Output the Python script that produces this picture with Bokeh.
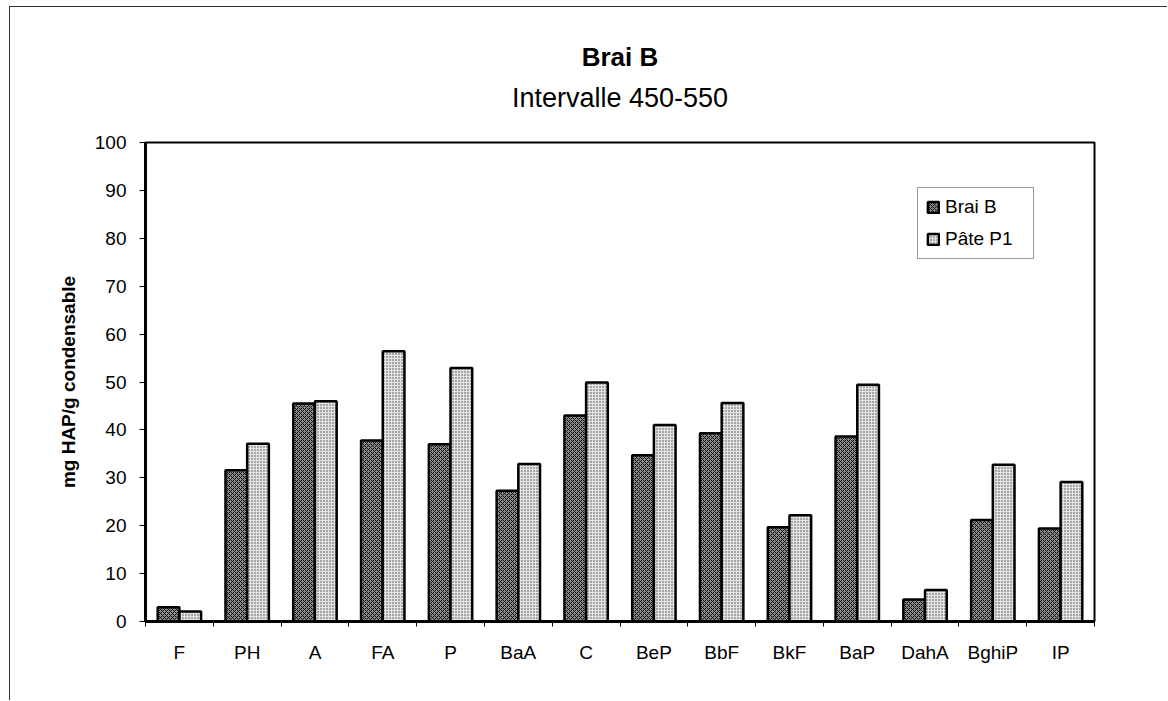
from bokeh.plotting import figure
from bokeh.models import ColumnDataSource, FixedTicker, Title, Legend, LegendItem
from bokeh.transform import dodge
from bokeh.embed import file_html
from bokeh.resources import INLINE

categories = ["F", "PH", "A", "FA", "P", "BaA", "C", "BeP", "BbF", "BkF", "BaP", "DahA", "BghiP", "IP"]
brai_b = [3.0, 31.6, 45.5, 37.8, 37.0, 27.3, 43.0, 34.7, 39.3, 19.7, 38.6, 4.6, 21.2, 19.4]
pate_p1 = [2.1, 37.1, 46.0, 56.4, 52.9, 32.9, 49.9, 41.0, 45.6, 22.2, 49.4, 6.6, 32.7, 29.1]
y_ticks = [0, 10, 20, 30, 40, 50, 60, 70, 80, 90, 100]

xpos = [i + 0.5 for i in range(len(categories))]
src = ColumnDataSource(dict(x=xpos, brai=brai_b, pate=pate_p1))

FONT = "Liberation Sans"

p = figure(width=1158, height=694, x_range=(0, 14), y_range=(0, 100),
           output_backend="svg", toolbar_location=None, tools="",
           min_border_left=135, min_border_right=74, min_border_top=135, min_border_bottom=80)
p.styles = {"margin-left": "9px", "margin-top": "6px",
            "border-top": "1px solid #333", "border-left": "1px solid #333"}

r1 = p.vbar(x=dodge("x", -0.16, range=p.x_range), top="brai", width=0.32, source=src,
            fill_color="#8a8a8a", hatch_pattern="x", hatch_color="#111111", hatch_scale=4, hatch_weight=1,
            line_color="black", line_width=2.5)
r2 = p.vbar(x=dodge("x", 0.16, range=p.x_range), top="pate", width=0.32, source=src,
            fill_color="#e4e4e4", hatch_pattern="dot", hatch_color="#444444", hatch_scale=3, hatch_weight=1,
            line_color="black", line_width=2.5)

p.add_layout(Title(text="Intervalle 450-550", align="center", text_font=FONT, text_font_size="27px",
                   text_font_style="normal", text_color="black", standoff=60), "above")
p.add_layout(Title(text="Brai B", align="center", text_font=FONT, text_font_size="26px",
                   text_font_style="bold", text_color="black", standoff=-43), "above")

p.xgrid.visible = False
p.ygrid.visible = False
p.outline_line_color = "black"
p.outline_line_width = 2
p.background_fill_color = "white"

xa = p.xaxis[0]
xa.ticker = FixedTicker(ticks=xpos, minor_ticks=list(range(0, 15)))
xa.major_label_overrides = {x: c for x, c in zip(xpos, categories)}
xa.major_tick_out = 0
xa.major_tick_in = 0
xa.minor_tick_out = 5
xa.minor_tick_in = 0
xa.minor_tick_line_color = "black"
xa.axis_line_width = 3
xa.axis_line_color = "black"
xa.major_label_text_font = FONT
xa.major_label_text_font_size = "19px"
xa.major_label_text_color = "black"
xa.major_label_standoff = 15

ya = p.yaxis[0]
ya.ticker = FixedTicker(ticks=y_ticks)
ya.major_tick_out = 6
ya.major_tick_in = 0
ya.minor_tick_out = 0
ya.major_tick_line_color = "black"
ya.axis_line_width = 3
ya.axis_line_color = "black"
ya.major_label_text_font = FONT
ya.major_label_text_font_size = "19px"
ya.major_label_text_color = "black"
ya.major_label_standoff = 13
ya.axis_label = "mg HAP/g condensable"
ya.axis_label_text_font = FONT
ya.axis_label_text_font_size = "19px"
ya.axis_label_text_font_style = "bold"
ya.axis_label_text_color = "black"
ya.axis_label_standoff = 13

legend = Legend(items=[LegendItem(label="Brai B", renderers=[r1]),
                       LegendItem(label="Pâte P1", renderers=[r2])],
                location=(772, 362), label_text_font=FONT, label_text_font_size="19px",
                label_text_color="black", label_height=22, label_width=80,
                border_line_color="#333", border_line_width=1, glyph_width=14, glyph_height=14,
                label_standoff=5, spacing=10, padding=8, margin=0)
p.add_layout(legend)

open("out.html", "w").write(file_html(p, INLINE))
